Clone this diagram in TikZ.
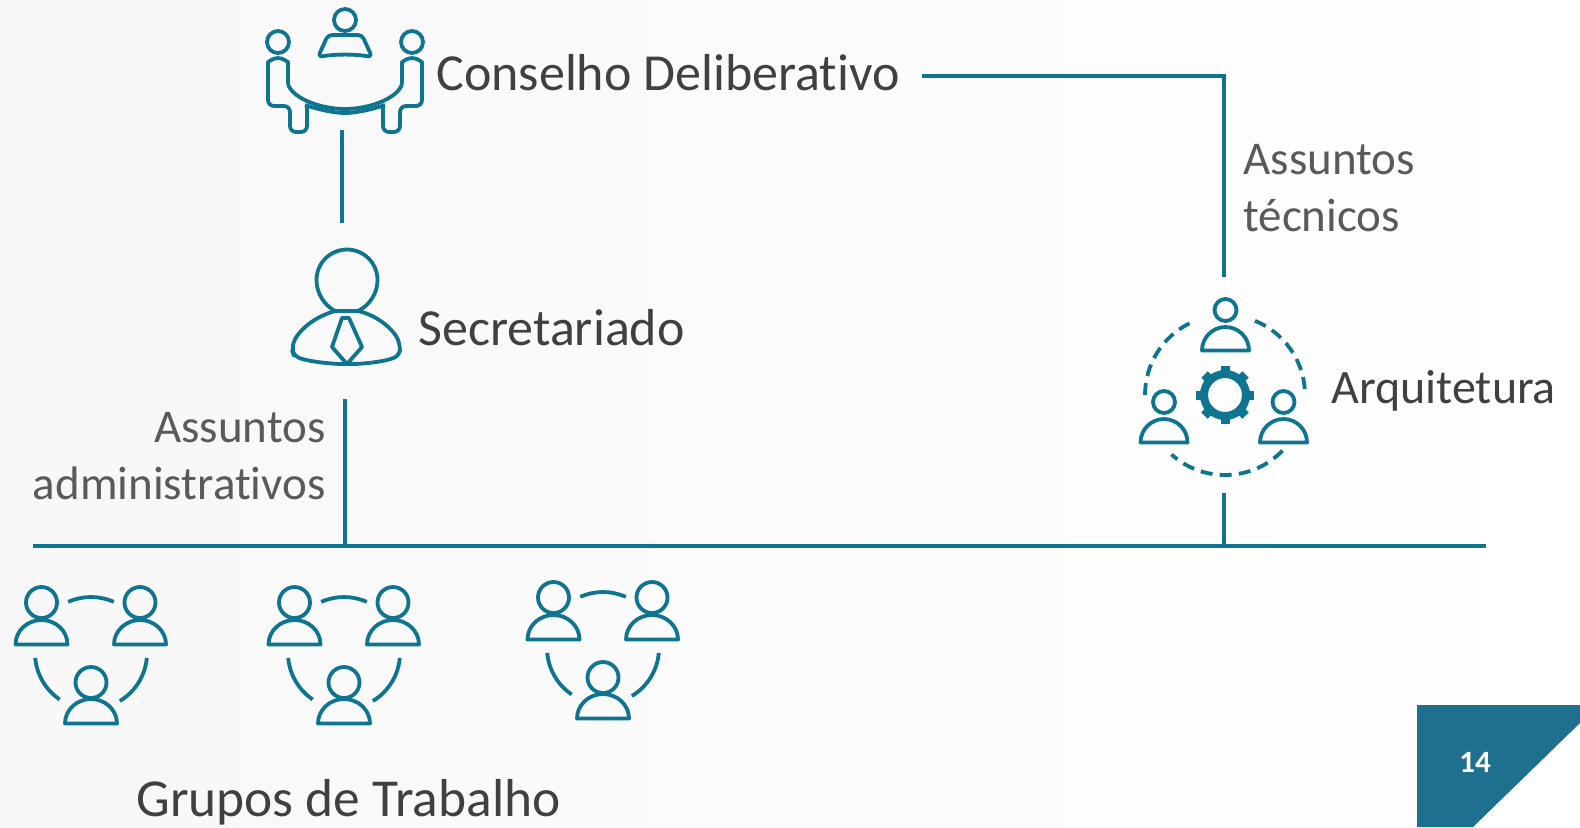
\documentclass[tikz,border=0pt]{standalone}
\usepackage{fontspec}
\setmainfont[Ligatures=NoCommon]{Carlito}
\usepackage{tikz}
\usetikzlibrary{calc}
\definecolor{linhacor}{HTML}{0E7490}
\definecolor{cantocor}{HTML}{1F6F8F}
\definecolor{textocor}{HTML}{404040}
\definecolor{rotulocor}{HTML}{5A5A5A}
\tikzset{
  linha/.style={draw=linhacor,line width=2pt},
  traco/.style={draw=linhacor,line width=1.9pt,line join=round},
  tracejado/.style={traco,dash pattern=on 6pt off 3.6pt},
  icone/.style={inner sep=0pt,minimum width=10},
  titulo/.style={inner sep=0pt,text=textocor,font=\fontsize{26}{30}\selectfont},
  rotulo/.style={inner sep=0pt,text=rotulocor,font=\fontsize{23.5}{28.75}\selectfont},
}
% x y r w h d: base centre, head radius, half width and height of the shoulders, head height over base
\newcommand{\pessoa}[6]{
  \draw[traco] (#1,#2-#6) circle (#3);
  \draw[traco] (#1-#4,#2) arc[start angle=180,end angle=360,x radius=#4,y radius=#5] -- cycle;
}
\tikzset{
  grupo/.pic={
    \pessoa{-49.5}{-8.5}{15.5}{26}{24.5}{42}
    \pessoa{49}{-8.5}{15.5}{26}{24.5}{42}
    \pessoa{0}{70.5}{15.5}{26}{24.5}{41}
    \draw[traco] (246:56) arc[start angle=246,end angle=294,radius=56];
    \draw[traco] (175:56) arc[start angle=175,end angle=124,radius=56];
    \draw[traco] (5:56) arc[start angle=5,end angle=59,radius=56];
  },
}
\begin{document}
\begin{tikzpicture}[x=0.5pt,y=-0.5pt]
      \useasboundingbox (0,0) rectangle (1580,827);
      \shade[left color=black!3,right color=white] (0,0) rectangle (1580,827);
      % Page corner
      \fill[cantocor] (1417,705) -- (1580,705) -- (1580,723) -- (1473,827) -- (1417,827) -- cycle;
      \node[inner sep=0pt,text=white,font=\fontsize{15.5}{15}\bfseries\selectfont] (pagina) at (1475,762) {14};
      %
      % Labels
      \node[titulo,anchor=base west] (conselho) at (436,90) {Conselho Deliberativo};
      \node[titulo,anchor=base west] (secretariado) at (418,345) {Secretariado};
      \node[titulo,anchor=base west,font=\fontsize{24}{30}\selectfont] (arquitetura) at (1331,403) {Arquitetura};
      \node[titulo,anchor=base west,font=\fontsize{26.7}{30}\selectfont] (grupos) at (136,816.5) {Grupos de Trabalho};
      \node[rotulo,anchor=west,align=left] (tecnicos) at (1243,188) {Assuntos\\técnicos};
      \node[rotulo,anchor=east,align=right] (administrativos) at (326,456) {Assuntos\\administrativos};
      %
      % Icon frames, the connectors stop at them
      \node[icone,minimum height=62.5] (mesa) at (342,67.5) {};
      \node[icone,minimum height=88] (chefe) at (345,311) {};
      \node[icone,minimum height=108] (arq) at (1224,385) {};
      %
      % Council table
      \draw[traco] (345,20) circle (11);
      \draw[traco,rounded corners=2pt] (328,35) -- (362,35) -- (372,57) .. controls (355,54) and (335,54) .. (318,57) -- cycle;
      \foreach \s in {-1,1} {
        \begin{scope}[shift={(345,0)},xscale=\s]
          \draw[traco] (-67,42) circle (11);
          \draw[traco,rounded corners=3pt] (-57,84) -- (-57,68) arc[start angle=0,end angle=-180,radius=10] -- (-77,106) -- (-55,106) -- (-55,132) -- (-38,132) -- (-38,106);
          \draw[traco] (-57,84) .. controls (-53,98) and (-25,109) .. (0,109);
          \draw[traco] (-40,105) .. controls (-25,110) and (-10,113) .. (0,113);
        \end{scope}
      }
      %
      % Secretary
      \draw[traco] (358,311) .. controls (370,305) and (377.5,293) .. (377.5,280) arc[start angle=0,end angle=-180,radius=30.5] .. controls (316.5,293) and (324,305) .. (335,311) -- cycle;
      \draw[traco,rounded corners=3pt] (335,311) .. controls (310,318) and (295,335) .. (292,350) -- (294,356) .. controls (310,362) and (335,364) .. (347,364) .. controls (360,364) and (385,362) .. (400,355) -- (400,345) .. controls (395,332) and (380,316) .. (358,311);
      \draw[traco,line join=round] (342,318) -- (332,347) -- (347,364) -- (362,347) -- (349,318) -- cycle;
      %
      % Architecture group
      \pessoa{1225.5}{350.5}{11}{23.5}{23.5}{40.5}
      \pessoa{1164}{442.5}{11}{23.5}{23.5}{40.5}
      \pessoa{1283.5}{442.5}{11}{23.5}{23.5}{40.5}
      \draw[tracejado] (1225,395) ++(180:80) arc[start angle=180,end angle=244,radius=80];
      \draw[tracejado] (1225,395) ++(292:80) arc[start angle=292,end angle=357,radius=80];
      \draw[tracejado] (1225,395) ++(44:80) arc[start angle=44,end angle=132,radius=80];
      \draw[linhacor,line width=4pt] (1225,395) circle (21);
      \foreach \a in {0,45,...,315} {
        \fill[linhacor,rotate around={\a:(1225,395)}] (1220.5,366) rectangle (1229.5,376);
      }
      %
      % Working groups
      \pic at (91,653) {grupo};
      \pic at (344,653) {grupo};
      \pic at (603,648) {grupo};
      %
      % Connectors
      \coordinate (canto) at (1224,75.5);
      \coordinate (barraesq) at (33,546);
      \coordinate (barradir) at (1486,546);
      \draw[linha,shorten <=11pt] (conselho.east |- canto) -- (canto) -- (arq.north);
      \draw[linha] (mesa.south) -- (mesa.south |- chefe.north);
      \draw[linha] (barraesq) -- (barradir);
      \draw[linha] (chefe.south) -- (chefe.south |- barraesq);
      \draw[linha] (arq.south) -- (arq.south |- barraesq);
\end{tikzpicture}
\end{document}
